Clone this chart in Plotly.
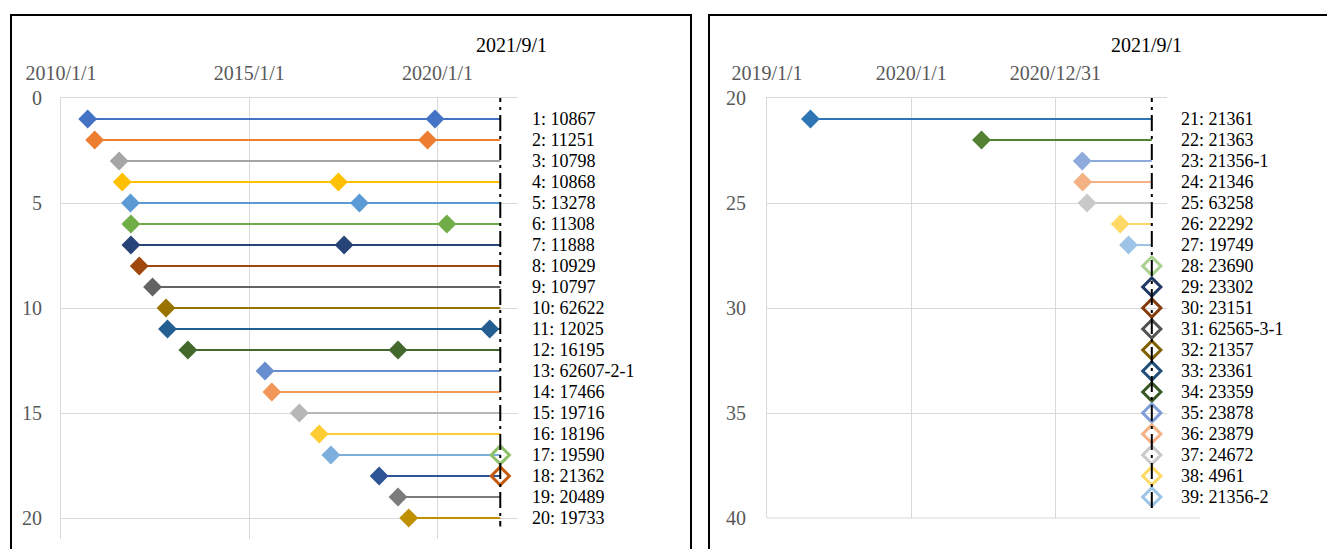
import plotly.graph_objects as go

W, H = 1327, 549
CUTOFF = "2021-09-01"
CUTOFF_LABEL = "2021/9/1"

# ---------------- data: left panel (rows 1-20) ----------------
left_rows = list(range(1, 21))
left_names = ["10867", "11251", "10798", "10868", "13278", "11308", "11888", "10929",
              "10797", "62622", "12025", "16195", "62607-2-1", "17466", "19716", "18196",
              "19590", "21362", "20489", "19733"]
left_start = ["2010-09-17", "2010-11-24", "2011-07-19", "2011-08-18", "2011-11-06",
              "2011-11-10", "2011-11-10", "2012-01-30", "2012-06-07", "2012-10-16",
              "2012-10-30", "2013-05-16", "2015-06-03", "2015-08-08", "2016-05-01",
              "2016-11-10", "2017-03-03", "2018-06-14", "2018-12-14", "2019-03-28"]
left_mid = ["2019-12-08", "2019-09-27", None, "2017-05-15", "2017-12-05",
            "2020-04-01", "2017-07-09", None, None, None,
            "2021-05-22", "2018-12-14", None, None, None,
            None, None, None, None, None]
left_end_mark = [False] * 16 + [True, True, False, False]
left_xticks = ["2010-01-01", "2015-01-01", "2020-01-01"]
left_xticktext = ["2010/1/1", "2015/1/1", "2020/1/1"]
left_yticks = [0, 5, 10, 15, 20]

# ---------------- data: right panel (rows 21-39) ----------------
right_rows = list(range(21, 40))
right_names = ["21361", "21363", "21356-1", "21346", "63258", "22292", "19749", "23690",
               "23302", "23151", "62565-3-1", "21357", "23361", "23359", "23878", "23879",
               "24672", "4961", "21356-2"]
right_start = ["2019-04-21", "2020-06-27", "2021-03-09", "2021-03-10", "2021-03-21",
               "2021-06-13", "2021-07-04"] + [None] * 12
right_end_mark = [False] * 7 + [True] * 12
right_xticks = ["2019-01-01", "2020-01-01", "2020-12-31"]
right_xticktext = ["2019/1/1", "2020/1/1", "2020/12/31"]
right_yticks = [20, 25, 30, 35, 40]

# ---------------- styles ----------------
left_colors = ["#4472C4", "#ED7D31", "#A5A5A5", "#FFC000", "#5B9BD5", "#70AD47",
               "#264478", "#9E480E", "#636363", "#997300", "#255E91", "#43682B",
               "#698ED0", "#F1975A", "#B7B7B7", "#FFCD33", "#7CAFDD", "#2F5597",
               "#7B7B7B", "#BF9000"]
left_end_colors = [None] * 16 + ["#8CC168", "#C55A11", None, None]
right_colors = ["#2E75B6", "#548235", "#8FAADC", "#F4B183", "#C9C9C9", "#FFD966",
                "#9DC3E6", "#A9D18E", "#203864", "#843C0C", "#525252", "#7F6000",
                "#1F4E79", "#385723", "#7F9ED8", "#F4B183", "#C9C9C9", "#FFD966",
                "#9DC3E6"]

FONT = "Liberation Serif"
GRID = "#D9D9D9"
TICKC = "#595959"


def px_x(p):
    return p / W


def px_y(p):
    return 1 - p / H


fig = go.Figure()


def add_rows(rows, starts, mids, end_marks, colors, end_colors, xa, ya):
    for i, row in enumerate(rows):
        c = colors[i]
        if starts[i] is not None:
            fig.add_trace(go.Scatter(
                x=[starts[i], CUTOFF], y=[row, row], mode="lines",
                line=dict(color=c, width=2), xaxis=xa, yaxis=ya,
                showlegend=False, hoverinfo="skip"))
            mx = [starts[i]] + ([mids[i]] if mids is not None and mids[i] else [])
            fig.add_trace(go.Scatter(
                x=mx, y=[row] * len(mx), mode="markers",
                marker=dict(symbol="diamond", size=14.5, color=c, line=dict(width=0)),
                xaxis=xa, yaxis=ya, showlegend=False, hoverinfo="skip"))
        if end_marks[i]:
            ec = end_colors[i] if end_colors is not None and end_colors[i] else c
            fig.add_trace(go.Scatter(
                x=[CUTOFF], y=[row], mode="markers",
                marker=dict(symbol="diamond-open", size=14, color=ec,
                            line=dict(width=3, color=ec)),
                xaxis=xa, yaxis=ya, showlegend=False, hoverinfo="skip"))


add_rows(left_rows, left_start, left_mid, left_end_mark, left_colors, left_end_colors, "x", "y")
add_rows(right_rows, right_start, None, right_end_mark, right_colors, None, "x2", "y2")

# plot-area geometry (pixels)
L_X0, L_X1, L_Y0, L_Y1 = 61, 518, 98, 539
R_X0, R_X1, R_Y0, R_Y1 = 767, 1200, 98, 518

axis_common = dict(showgrid=True, gridcolor=GRID, gridwidth=1, zeroline=False,
                   ticks="", automargin=False, linecolor=GRID, linewidth=1,
                   tickfont=dict(family=FONT, size=20, color=TICKC))

fig.update_layout(
    template="none",
    width=W, height=H,
    autosize=False,
    showlegend=False,
    margin=dict(l=0, r=0, t=0, b=0, pad=0),
    paper_bgcolor="white", plot_bgcolor="white",
    xaxis=dict(domain=[px_x(L_X0), px_x(L_X1)], type="date",
               range=["2010-01-01", "2022-02-20"], side="top", anchor="y",
               showline=True, mirror=False,
               tickmode="array", tickvals=left_xticks, ticktext=left_xticktext,
               ticklabelstandoff=9, **axis_common),
    yaxis=dict(domain=[px_y(L_Y1), px_y(L_Y0)], range=[21, 0], anchor="x",
               showline=True, mirror=False,
               tickmode="array", tickvals=left_yticks, ticklabelstandoff=14, **axis_common),
    xaxis2=dict(domain=[px_x(R_X0), px_x(R_X1)], type="date",
                range=["2019-01-01", "2022-01-01"], side="top", anchor="y2",
                showline=True, mirror=False,
                tickmode="array", tickvals=right_xticks, ticktext=right_xticktext,
                ticklabelstandoff=9, **axis_common),
    yaxis2=dict(domain=[px_y(R_Y1), px_y(R_Y0)], range=[40, 20], anchor="x2",
                showline=True, mirror=False,
                tickmode="array", tickvals=right_yticks, ticklabelstandoff=16, **axis_common),
)

shapes = []
# cover the gridlines behind the right-hand labels (as in the original)
shapes.append(dict(type="rect", xref="paper", yref="paper",
                   x0=px_x(1167), x1=px_x(1202), y0=px_y(515), y1=px_y(94),
                   fillcolor="white", line=dict(width=0), layer="above"))
# bottom frame line of the right plot area (axis edge)
shapes.append(dict(type="line", xref="x2 domain", yref="y2 domain", x0=0, x1=1, y0=0, y1=0,
                   line=dict(color=GRID, width=1), layer="below"))
# cutoff dash-dot lines
shapes.append(dict(type="line", xref="x", yref="y", x0=CUTOFF, x1=CUTOFF, y0=-1.95, y1=20.4,
                   line=dict(color="black", width=2, dash="16px,5px,3px,5px"), layer="above"))
shapes.append(dict(type="line", xref="x2", yref="y2", x0=CUTOFF, x1=CUTOFF, y0=18.05, y1=39.7,
                   line=dict(color="black", width=2, dash="16px,5px,3px,5px"), layer="above"))
# panel borders
shapes.append(dict(type="rect", xref="paper", yref="paper",
                   x0=px_x(11), x1=px_x(691), y0=px_y(15), y1=px_y(620),
                   line=dict(color="black", width=2), fillcolor="rgba(0,0,0,0)", layer="above"))
shapes.append(dict(type="rect", xref="paper", yref="paper",
                   x0=px_x(709), x1=px_x(1400), y0=px_y(15), y1=px_y(620),
                   line=dict(color="black", width=2), fillcolor="rgba(0,0,0,0)", layer="above"))
fig.update_layout(shapes=shapes)

annotations = []
for row, name in zip(left_rows, left_names):
    annotations.append(dict(text=f"{row}: {name}", xref="paper", yref="y", x=px_x(530), y=row,
                            xanchor="left", yanchor="middle", showarrow=False,
                            font=dict(family=FONT, size=18, color="black")))
for row, name in zip(right_rows, right_names):
    annotations.append(dict(text=f"{row}: {name}", xref="paper", yref="y2", x=px_x(1179), y=row,
                            xanchor="left", yanchor="middle", showarrow=False,
                            font=dict(family=FONT, size=18, color="black")))
annotations.append(dict(text=CUTOFF_LABEL, xref="paper", yref="paper", x=px_x(511), y=px_y(44.5),
                        xanchor="center", yanchor="middle", showarrow=False,
                        font=dict(family=FONT, size=20, color="black")))
annotations.append(dict(text=CUTOFF_LABEL, xref="paper", yref="paper", x=px_x(1146.5), y=px_y(44.5),
                        xanchor="center", yanchor="middle", showarrow=False,
                        font=dict(family=FONT, size=20, color="black")))
fig.update_layout(annotations=annotations)

fig.write_html(
    "out.html",
    config={"displayModeBar": False},
    post_script="document.body.style.margin='0';document.body.style.overflow='hidden';",
)
